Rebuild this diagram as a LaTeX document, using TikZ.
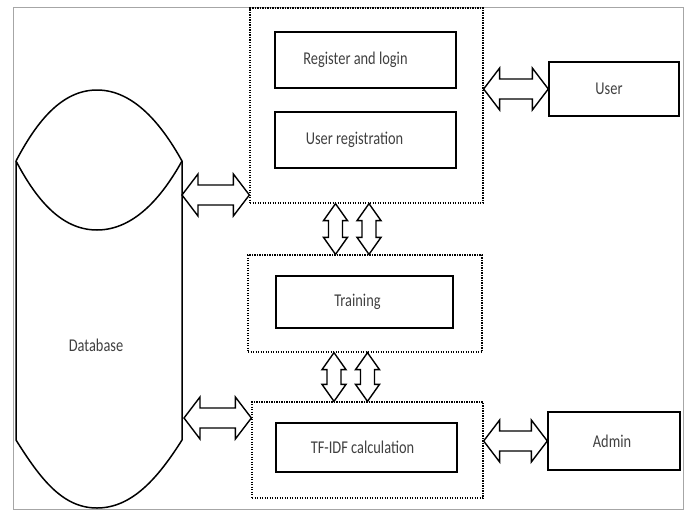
\documentclass[tikz,border=0pt]{standalone}
\usepackage{fontspec}
\setmainfont[FakeStretch=0.8]{Carlito}
\usetikzlibrary{calc}

% hollow double arrows, left to right and top to bottom
\newcommand\hfat[2]{%
	\draw[fat] let \p1=#1, \p2=#2 in (\x1,\y1) -- ++(16pt,21pt) -- ++(0,-11pt) -- (\x2-16pt,\y1+10pt) -- ++(0,11pt) -- (\x2,\y1) -- ++(-16pt,-21pt) -- ++(0,11pt) -- (\x1+16pt,\y1-10pt) -- ++(0,-11pt) -- cycle;}
\newcommand\vfat[2]{%
	\draw[fat] let \p1=#1, \p2=#2 in (\x1,\y1) -- ++(12pt,-17pt) -- ++(-5pt,0) -- (\x1+7pt,\y2+17pt) -- ++(5pt,0) -- (\x1,\y2) -- ++(-12pt,17pt) -- ++(5pt,0) -- (\x1-7pt,\y1-17pt) -- ++(-5pt,0) -- cycle;}

\begin{document}
\begin{tikzpicture}[x=1pt,y=-1pt,
		box/.style={draw,line width=1.4pt,inner sep=0pt},
		grp/.style={draw,line width=1.3pt,dash pattern=on 1.3pt off 1.2pt,inner sep=0pt},
		fat/.style={draw,line width=1.4pt,fill=white,line join=miter},
		every node/.style={font=\fontsize{18}{21}\selectfont,text=black!75},
		every label/.style={font=\fontsize{18}{21}\selectfont,text=black!75}]
	\useasboundingbox (0,0) rectangle (686,512);
	\draw[gray!70,line width=1pt] (13,7) rectangle (683,509);

	% database
	\draw[line width=1.5pt] (16,161) .. controls (35,125) and (60,90) .. (97,90) .. controls (134,90) and (162,125) .. (182,161) .. controls (162,197) and (134,230) .. (97,230) .. controls (60,230) and (35,197) .. (16,161);
	\draw[line width=1.5pt] (182,161) -- (182,440) .. controls (158,478) and (132,508) .. (97,508) .. controls (62,508) and (40,478) .. (16,440) -- (16,161);
	\node (db) at (96,345) {Database};

	% groups
	\node[grp,minimum width=233pt,minimum height=195pt] (grp1) at (366.5,105.5) {};
	\node[grp,minimum width=234pt,minimum height=97pt] (grp2) at (365,303.5) {};
	\node[grp,minimum width=231pt,minimum height=96pt] (grp3) at (367.5,450) {};

	\node[box,minimum width=181pt,minimum height=56pt,label={[xshift=-10pt]center:Register and login}] (reg) at (365.5,60) {};
	\node[box,minimum width=181pt,minimum height=56pt,label={[xshift=-11pt]center:User registration}] (ureg) at (365.5,140) {};
	\node[box,minimum width=177pt,minimum height=52pt,label={[xshift=-7pt]center:Training}] (train) at (364.5,302) {};
	\node[box,minimum width=181pt,minimum height=49pt,label={[xshift=-4pt]center:TF-IDF calculation}] (tfidf) at (366.5,447.5) {};
	\node[box,minimum width=130pt,minimum height=54pt,label={[xshift=-5pt]center:User}] (user) at (614,89) {};
	\node[box,minimum width=132pt,minimum height=58pt,label={[xshift=-2pt]center:Admin}] (admin) at (614,441) {};

	% arrows
	\coordinate (dbtop) at (182,195);
	\coordinate (dbbot) at (184,418);
	\hfat{(dbtop)}{(grp1.west |- dbtop)}
	\hfat{(dbbot)}{(grp3.west |- dbbot)}
	\hfat{(grp1.east |- user.west)}{(user.west)}
	\hfat{(grp3.east |- admin.west)}{(admin.west)}
	\foreach \d in {-31,2.5} {
		\vfat{($(grp1.south)+(\d,0)$)}{(grp2.north)}
		\vfat{($(grp2.south)+(\d,0)$)}{(grp3.north)}
	}
\end{tikzpicture}
\end{document}
